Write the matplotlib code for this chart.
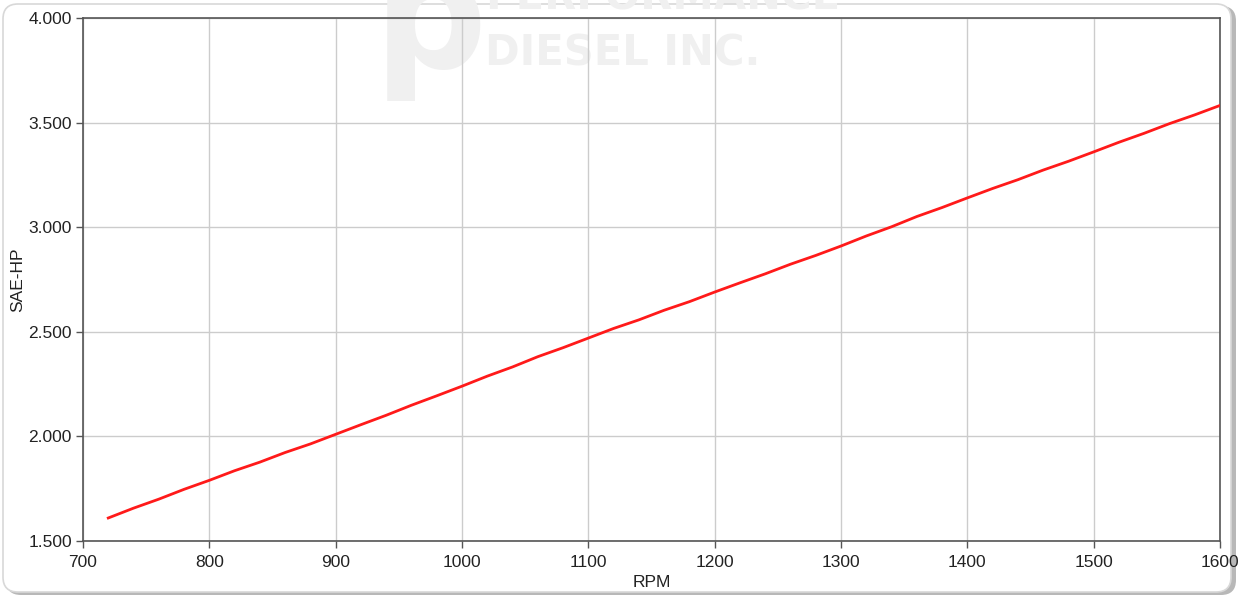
import matplotlib.pyplot as plt
from matplotlib.patches import FancyBboxPatch
from matplotlib.ticker import FuncFormatter

plt.rcParams['font.family'] = ['Liberation Sans', 'DejaVu Sans']

rpm = [720, 740, 760, 780, 800, 820, 840, 860, 880, 900, 920, 940, 960, 980,
       1000, 1020, 1040, 1060, 1080, 1100, 1120, 1140, 1160, 1180, 1200,
       1220, 1240, 1260, 1280, 1300, 1320, 1340, 1360, 1380, 1400, 1420,
       1440, 1460, 1480, 1500, 1520, 1540, 1560, 1580, 1600]
sae_hp = [1.610, 1.657, 1.700, 1.747, 1.790, 1.836, 1.877, 1.923, 1.964, 2.010,
          2.056, 2.101, 2.149, 2.194, 2.240, 2.288, 2.332, 2.381, 2.424, 2.470,
          2.516, 2.557, 2.603, 2.644, 2.690, 2.734, 2.777, 2.823, 2.865, 2.910,
          2.958, 3.002, 3.051, 3.094, 3.140, 3.185, 3.227, 3.273, 3.315, 3.360,
          3.406, 3.449, 3.495, 3.537, 3.582]

fig = plt.figure(figsize=(12.46, 5.97), dpi=100)

# frame with shadow
shadow = FancyBboxPatch((6 / 1246, 2 / 597), 1230 / 1246, 589 / 597,
                        boxstyle="round,pad=0,rounding_size=0.012",
                        transform=fig.transFigure, facecolor='#b8b8b8',
                        edgecolor='none', zorder=-3, mutation_aspect=1246 / 597)
frame = FancyBboxPatch((3 / 1246, 5 / 597), 1228 / 1246, 588 / 597,
                       boxstyle="round,pad=0,rounding_size=0.012",
                       transform=fig.transFigure, facecolor='white',
                       edgecolor='#d8d8d8', linewidth=1.2, zorder=-2,
                       mutation_aspect=1246 / 597)
fig.patches.extend([shadow, frame])

# watermark
wm = dict(family='DejaVu Sans', fontweight='bold', color='#f0f0f0',
          ha='left', va='baseline', zorder=-1)
fig.text(374 / 1246, (597 - 68) / 597, 'p', fontsize=114, **wm)
fig.text(485 / 1246, (597 - 10) / 597, 'PERFORMANCE', fontsize=30, **wm)
fig.text(485 / 1246, (597 - 65) / 597, 'DIESEL INC.', fontsize=30, **wm)

ax = fig.add_axes([83 / 1246, 56 / 597, 1137 / 1246, 523 / 597])
ax.patch.set_alpha(0)
ax.plot(rpm, sae_hp, color='#ff1a1a', linewidth=2, zorder=3)

ax.set_xlim(700, 1600)
ax.set_ylim(1.5, 4.0)
ax.set_xticks(range(700, 1601, 100))
ax.set_yticks([1.5, 2.0, 2.5, 3.0, 3.5, 4.0])
ax.yaxis.set_major_formatter(FuncFormatter(lambda v, p: '%.3f' % v))
ax.grid(True, color='#cccccc', linewidth=1)
ax.set_axisbelow(True)
for s in ax.spines.values():
    s.set_color('#555555')
    s.set_linewidth(1.2)
ax.tick_params(direction='out', length=5, width=1, color='#555555',
               labelsize=12.5, labelcolor='#222222', pad=3)
ax.tick_params(axis='x', pad=5)
ax.set_xlabel('RPM', fontsize=12.5, labelpad=4, color='#222222')
ax.set_ylabel('SAE-HP', fontsize=12.5, labelpad=2, color='#222222')

fig.savefig('out.png', dpi=100)
